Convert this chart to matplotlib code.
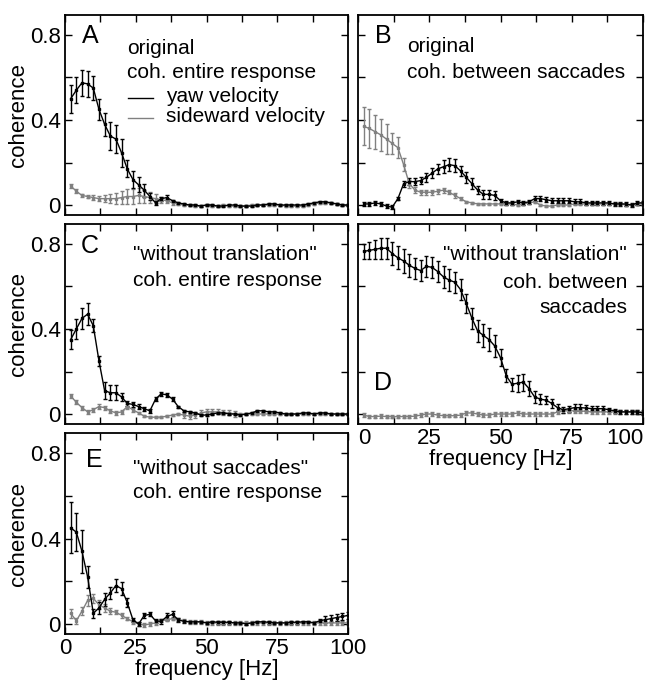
import numpy as np
import matplotlib
matplotlib.use('Agg')
import matplotlib.pyplot as plt
from matplotlib.lines import Line2D

plt.rcParams['font.family'] = ['Liberation Sans', 'DejaVu Sans']

# frequenze (Hz)
freq = np.arange(2, 101, 2)

# pannello A - originale, coerenza risposta intera
yaw_A = [0.50, 0.54, 0.575, 0.57, 0.55, 0.45, 0.38, 0.325, 0.31, 0.245,
         0.17, 0.12, 0.095, 0.07, 0.04, 0.01, 0.03, 0.035, 0.02, 0.01,
         0.005, 0.0, 0.0, -0.005, 0.0, 0.0, -0.005, -0.005, 0.0, 0.0,
         -0.005, -0.005, -0.005, 0.0, 0.0, 0.005, 0.005, 0.0, 0.0, 0.0,
         0.0, 0.0, 0.005, 0.01, 0.015, 0.015, 0.01, 0.005, 0.0, 0.0]
yaw_A_err = [0.065, 0.06, 0.06, 0.06, 0.055, 0.05, 0.055, 0.065, 0.065, 0.065,
             0.04, 0.04, 0.035, 0.03, 0.015, 0.01, 0.01, 0.01, 0.005, 0.005] + [0.005] * 30
side_A = [0.09, 0.065, 0.045, 0.04, 0.035, 0.03, 0.03, 0.03, 0.03, 0.035,
          0.04, 0.04, 0.045, 0.04, 0.035, 0.03, 0.025, 0.02, 0.01, 0.005,
          0.0, 0.0, -0.005, -0.005, 0.0, -0.005, -0.005, 0.0, -0.005, -0.005,
          -0.005, -0.005, 0.0, 0.0, 0.0, 0.0, 0.0, 0.0, -0.005, -0.005,
          -0.005, -0.005, 0.0, 0.005, 0.01, 0.01, 0.01, 0.005, 0.0, 0.0]
side_A_err = [0.01, 0.008, 0.008, 0.008, 0.01, 0.012, 0.015, 0.02, 0.025, 0.03,
              0.035, 0.035, 0.035, 0.03, 0.025, 0.02, 0.015, 0.01, 0.008, 0.005] + [0.004] * 30

# pannello B - originale, coerenza tra saccadi
yaw_B = [0.005, 0.005, 0.01, 0.005, -0.005, -0.01, 0.03, 0.1, 0.11, 0.11,
         0.115, 0.13, 0.15, 0.17, 0.18, 0.19, 0.185, 0.16, 0.13, 0.1,
         0.07, 0.05, 0.05, 0.045, 0.02, 0.01, 0.01, 0.015, 0.01, 0.015,
         0.03, 0.03, 0.025, 0.02, 0.02, 0.02, 0.02, 0.015, 0.015, 0.01,
         0.01, 0.01, 0.01, 0.01, 0.005, 0.005, 0.005, 0.0, 0.01, 0.01]
yaw_B_err = [0.008] * 7 + [0.015] * 4 + [0.02, 0.025, 0.025, 0.03, 0.03, 0.03, 0.025, 0.025, 0.025] + \
            [0.02] * 4 + [0.01] * 6 + [0.012] * 9 + [0.008] * 11
side_B = [0.37, 0.36, 0.345, 0.33, 0.31, 0.29, 0.27, 0.19, 0.1, 0.07,
          0.06, 0.06, 0.06, 0.065, 0.07, 0.06, 0.045, 0.03, 0.015, 0.01,
          0.005, 0.005, 0.005, 0.005, 0.005, 0.005, 0.005, 0.0, 0.005, 0.01,
          0.015, 0.0, -0.005, -0.005, 0.0, 0.0, 0.0, 0.005, 0.005, 0.005,
          0.005, 0.005, 0.005, 0.005, 0.005, 0.005, 0.0, 0.0, 0.005, 0.005]
side_B_err = [0.09, 0.09, 0.08, 0.075, 0.07, 0.05, 0.05, 0.03, 0.02, 0.015,
              0.012, 0.012, 0.012, 0.012, 0.012, 0.01, 0.01, 0.008, 0.006, 0.006] + [0.005] * 30

# pannello C - "senza traslazione", risposta intera
yaw_C = [0.35, 0.40, 0.45, 0.47, 0.415, 0.25, 0.11, 0.10, 0.10, 0.08,
         0.05, 0.045, 0.035, 0.025, 0.015, 0.07, 0.095, 0.09, 0.07, 0.035,
         0.015, 0.01, 0.005, -0.005, -0.005, 0.0, 0.005, 0.005, 0.0, 0.0,
         -0.005, 0.0, 0.005, 0.015, 0.015, 0.01, 0.01, 0.005, 0.0, 0.0,
         0.0, 0.005, 0.005, 0.0, 0.005, 0.005, 0.0, 0.0, 0.0, 0.0]
yaw_C_err = [0.045, 0.045, 0.05, 0.05, 0.03, 0.025, 0.04, 0.035, 0.035, 0.02,
             0.01, 0.01, 0.01, 0.01, 0.01, 0.01, 0.01, 0.01, 0.01, 0.005] + [0.005] * 30
side_C = [0.085, 0.055, 0.03, 0.01, 0.02, 0.035, 0.03, 0.015, 0.005, 0.01,
          0.035, 0.02, 0.005, -0.01, -0.015, -0.015, -0.015, -0.01, -0.005, 0.0,
          -0.005, -0.01, -0.005, 0.005, 0.01, 0.01, 0.01, 0.005, 0.005, 0.0,
          0.0, 0.0, 0.0, 0.0, 0.0, 0.0, 0.0, 0.0, 0.0, 0.0,
          0.0, 0.0, 0.0, 0.0, 0.0, 0.0, 0.0, 0.0, 0.0, 0.0]
side_C_err = [0.01] * 12 + [0.006] * 8 + [0.012] * 10 + [0.005] * 20

# pannello D - "senza traslazione", tra saccadi
yaw_D = [0.765, 0.77, 0.775, 0.78, 0.78, 0.755, 0.735, 0.72, 0.70, 0.685,
         0.675, 0.695, 0.69, 0.67, 0.645, 0.63, 0.62, 0.585, 0.52, 0.45,
         0.39, 0.37, 0.35, 0.32, 0.265, 0.18, 0.14, 0.145, 0.15, 0.12,
         0.08, 0.07, 0.065, 0.05, 0.03, 0.02, 0.025, 0.03, 0.03, 0.028,
         0.025, 0.025, 0.025, 0.02, 0.015, 0.01, 0.01, 0.01, 0.01, 0.005]
yaw_D_err = [0.035, 0.04, 0.045, 0.05, 0.05, 0.055, 0.055, 0.055, 0.055, 0.05,
             0.05, 0.05, 0.05, 0.05, 0.05, 0.05, 0.05, 0.05, 0.045, 0.05,
             0.05, 0.055, 0.055, 0.05, 0.04, 0.03, 0.03, 0.04, 0.04, 0.035,
             0.03, 0.025, 0.02, 0.02, 0.015, 0.015, 0.015, 0.015, 0.015, 0.015,
             0.012, 0.012, 0.012, 0.01, 0.01, 0.01, 0.008, 0.008, 0.008, 0.008]
side_D = [-0.005, -0.012, -0.012, -0.01, -0.012, -0.012, -0.012, -0.012, -0.012, -0.01,
          -0.005, 0.0, 0.0, -0.005, -0.008, -0.008, -0.008, -0.005, 0.005, 0.005,
          0.0, -0.005, -0.005, 0.0, 0.0, 0.0, 0.0, 0.005, 0.0, 0.0,
          0.0, 0.0, 0.0, 0.0, 0.01, 0.015, 0.015, 0.015, 0.015, 0.012,
          0.01, 0.01, 0.01, 0.01, 0.01, 0.01, 0.01, 0.01, 0.01, 0.01]
side_D_err = [0.008] * 50

# pannello E - "senza saccadi", risposta intera
yaw_E = [0.45, 0.43, 0.34, 0.22, 0.05, 0.075, 0.115, 0.145, 0.18, 0.165,
         0.10, 0.02, 0.0, 0.04, 0.045, 0.015, 0.012, 0.035, 0.045, 0.02,
         0.012, 0.01, 0.01, 0.01, 0.005, 0.01, 0.008, 0.008, 0.008, 0.005,
         0.005, 0.0, 0.005, 0.01, 0.01, 0.008, 0.005, 0.005, 0.005, 0.008,
         0.008, 0.01, 0.01, 0.005, 0.015, 0.02, 0.025, 0.03, 0.035, 0.04]
yaw_E_err = [0.12, 0.09, 0.1, 0.05, 0.02, 0.03, 0.03, 0.03, 0.03, 0.03,
             0.02, 0.01, 0.01, 0.01, 0.01, 0.01, 0.01, 0.015, 0.015, 0.01] + [0.006] * 25 + [0.015] * 5
side_E = [0.05, 0.015, 0.06, 0.11, 0.12, 0.09, 0.075, 0.06, 0.055, 0.04,
          0.025, 0.01, 0.0, -0.005, 0.0, 0.005, 0.015, 0.02, 0.025, 0.02,
          0.015, 0.01, 0.01, 0.01, 0.005, 0.005, 0.005, 0.005, 0.005, 0.005,
          0.005, 0.005, 0.005, 0.005, 0.005, 0.005, 0.005, 0.005, 0.005, 0.005,
          0.005, 0.005, 0.005, 0.005, 0.005, 0.005, 0.005, 0.005, 0.005, 0.005]
side_E_err = [0.02, 0.015, 0.02, 0.025, 0.02, 0.02, 0.02, 0.015, 0.01, 0.01] + [0.008] * 40

W, H = 655, 682
fig = plt.figure(figsize=(W / 100, H / 100), dpi=100)


def rect(l, t, r, b):
    # da pixel a coordinate figura
    return [l / W, 1 - b / H, (r - l) / W, (b - t) / H]


def ftext(x, y, s, **kw):
    fig.text(x / W, 1 - y / H, s, va='center', **kw)


def pannello(box, yaw, yaw_err, side, side_err, xlabels, ylabel, bordi=False):
    ax = fig.add_axes(rect(*box))
    ax.errorbar(freq, side, yerr=side_err, color='#808080', lw=1, marker='s', ms=2,
                elinewidth=1, capsize=1.5)
    ax.errorbar(freq, yaw, yerr=yaw_err, color='black', lw=1, marker='s', ms=2,
                elinewidth=1, capsize=1.5)
    ax.set_xlim(0, 100)
    ax.set_ylim(-0.047, 0.894)
    ax.set_xticks(np.arange(0, 101, 12.5))
    ax.set_yticks([0, 0.2, 0.4, 0.6, 0.8])
    if xlabels:
        ax.set_xticklabels(['0', '', '25', '', '50', '', '75', '', '100'])
        ax.set_xlabel('frequency [Hz]', fontsize=16, labelpad=0)
        if bordi:
            # primo e ultimo allineati ai bordi come nell'originale
            lbl = ax.get_xticklabels()
            lbl[0].set_ha('left')
            lbl[-1].set_ha('right')
    else:
        ax.set_xticklabels([])
    if ylabel:
        ax.set_yticklabels(['0', '', '0.4', '', '0.8'])
        ax.set_ylabel('coherence', fontsize=16, labelpad=1)
    else:
        ax.set_yticklabels([])
    ax.tick_params(direction='in', length=5, width=1, top=True, right=True,
                   labelsize=16, pad=3)
    for s in ax.spines.values():
        s.set_linewidth(1.3)
    return ax


pannello((65, 15, 348, 215), yaw_A, yaw_A_err, side_A, side_A_err, False, True)
pannello((358, 15, 643, 215), yaw_B, yaw_B_err, side_B, side_B_err, False, False)
pannello((65, 224, 348, 424), yaw_C, yaw_C_err, side_C, side_C_err, False, True)
pannello((358, 224, 643, 424), yaw_D, yaw_D_err, side_D, side_D_err, True, False, bordi=True)
pannello((65, 433, 348, 634), yaw_E, yaw_E_err, side_E, side_E_err, True, True)

fs = 15
fl = 18
# testi pannello A
ftext(90, 36, 'A', fontsize=fl, ha='center')
ftext(127, 48, 'original', fontsize=fs)
ftext(127, 72, 'coh. entire response', fontsize=fs)
fig.add_artist(Line2D([128 / W, 153 / W], [1 - 98 / H, 1 - 98 / H], color='black', lw=1))
fig.add_artist(Line2D([128 / W, 153 / W], [1 - 118 / H, 1 - 118 / H], color='#808080', lw=1))
ftext(166, 96, 'yaw velocity', fontsize=fs)
ftext(166, 116, 'sideward velocity', fontsize=fs)

# pannello B
ftext(383, 36, 'B', fontsize=fl, ha='center')
ftext(407, 47, 'original', fontsize=fs)
ftext(407, 72, 'coh. between saccades', fontsize=fs)

# pannello C
ftext(90, 246, 'C', fontsize=fl, ha='center')
ftext(133, 255, '"without translation"', fontsize=fs)
ftext(133, 280, 'coh. entire response', fontsize=fs)

# pannello D
ftext(383, 383, 'D', fontsize=fl, ha='center')
ftext(627, 255, '"without translation"', fontsize=fs, ha='right')
ftext(627, 282, 'coh. between', fontsize=fs, ha='right')
ftext(627, 307, 'saccades', fontsize=fs, ha='right')

# pannello E
ftext(94, 460, 'E', fontsize=fl, ha='center')
ftext(133, 468, '"without saccades"', fontsize=fs)
ftext(133, 492, 'coh. entire response', fontsize=fs)

fig.savefig('out.png', dpi=100)
